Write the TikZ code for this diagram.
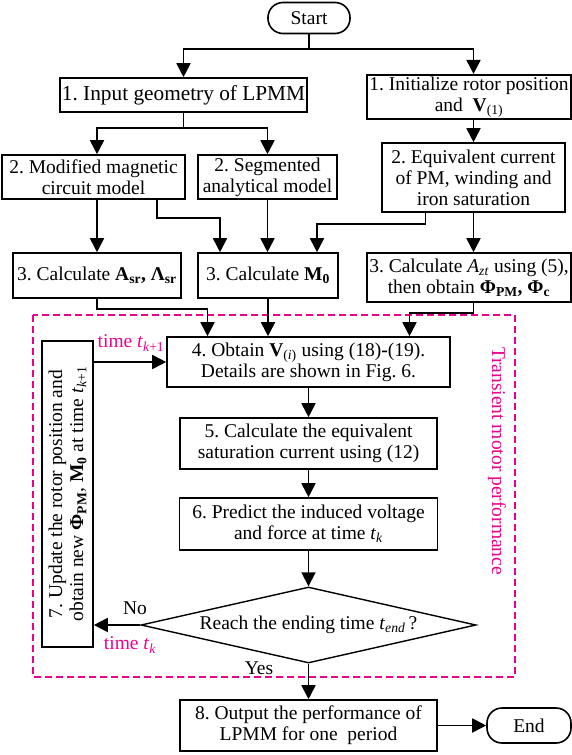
\documentclass[tikz,border=0pt]{standalone}
\usepackage{fontspec}
\setmainfont{Liberation Serif}
\usetikzlibrary{arrows.meta, shapes.geometric}
\frenchspacing

\begin{document}
\begin{tikzpicture}[x=1pt, y=-1pt,
  font=\fontsize{19.5}{21}\selectfont,
  box/.style={draw, line width=1.6pt, align=center, inner sep=2pt},
  term/.style={box, rounded corners=15pt},
  lnk/.style={line width=1.8pt},
  arr/.style={lnk, -{Triangle[length=14pt,width=14pt]}},
  note/.style={text=magenta, inner sep=1pt}]
\useasboundingbox (0,0) rectangle (572,755);

% transient loop frame
\draw [magenta, line width=1.5pt, dash pattern=on 7pt off 4pt] (33,315) rectangle (515,677);
\node [note, rotate=-90] (trans) at (497,461) {Transient motor performance};

% boxes
\node [term, minimum width=82pt, minimum height=31pt] (start) at (309,18) {Start};
\node [box, minimum width=233pt, minimum height=34pt, font=\fontsize{21.3}{23}\selectfont] (l1) at (183.5,95) {1. Input geometry of LPMM};
\node [box, minimum width=204pt, minimum height=40pt] (r1) at (469,97) {1. Initialize rotor position\\ and\enspace\textbf{V}\textsubscript{(1)}};
\node [box, minimum width=183pt, minimum height=44pt] (l2a) at (93.5,177) {2. Modified magnetic\\ circuit model};
\node [box, minimum width=139pt, minimum height=44pt] (l2b) at (267.5,177) {2. Segmented\\ analytical model};
\node [box, minimum width=183pt, minimum height=69pt] (r2) at (473.5,177.5) {2. Equivalent current\\ of PM, winding and\\ iron saturation};
\node [box, minimum width=168pt, minimum height=45pt] (l3a) at (97,275.5) {3. Calculate \textbf{A}\textsubscript{\textbf{sr}}\textbf{,} \textbf{Λ}\textsubscript{\textbf{sr}}};
\node [box, minimum width=140pt, minimum height=45pt] (l3b) at (268,275.5) {3. Calculate \textbf{M}\textsubscript{\textbf{0}}};
\node [box, minimum width=204pt, minimum height=49pt] (r3) at (469,277.5) {3. Calculate \textit{A}\textsubscript{\textit{zt}} using (5),\\ then obtain \textbf{Φ}\textsubscript{\textbf{PM}}\textbf{,} \textbf{Φ}\textsubscript{\textbf{c}}};
\node [box, minimum width=283pt, minimum height=50pt] (b4) at (308.5,362) {4. Obtain \textbf{V}\textsubscript{(\textit{i})} using (18)\textbf{-}(19).\\ Details are shown in Fig. 6.};
\node [box, minimum width=257pt, minimum height=51pt] (b5) at (308.5,443.5) {5. Calculate the equivalent\\ saturation current using (12)};
\node [box, minimum width=258pt, minimum height=52pt] (b6) at (308.5,524) {6. Predict the induced voltage\\ and force at time \textit{t}\textsubscript{\textit{k}}};
\node [draw, diamond, aspect=4.4, line width=1.4pt, inner sep=0pt, minimum width=335pt, minimum height=76pt] (dec) at (308.5,625) {Reach the ending time \textit{t}\textsubscript{\textit{end}}\,?};
\node [box, rotate=90, minimum width=306pt, minimum height=51pt] (b7) at (67.5,494) {7. Update the rotor position and\\ obtain new \textbf{Φ}\textsubscript{\textbf{PM}}, \textbf{M}\textsubscript{\textbf{0}} at time \textit{t}\textsubscript{\textit{k}+1}};
\node [box, minimum width=257pt, minimum height=51pt] (b8) at (308.5,725.5) {8. Output the performance of\\ LPMM for one \ period};
\node [term, minimum width=84pt, minimum height=35pt] (end) at (529,725.5) {End};

% labels
\node [note] (tk1) at (131,343) {time \textit{t}\textsubscript{\textit{k}+1}};
\node (no) at (135,608) {No};
\node [note] (tk) at (130,645) {time \textit{t}\textsubscript{\textit{k}}};
\node (yes) at (259,668) {Yes};

% connectors
\draw [lnk] (start.south) -- ++(0,15) coordinate (sp1);
\draw [arr] (sp1) -| (l1.north);
\draw [arr] (sp1) -| (r2.north |- r1.north);
\draw [arr] (r2.north |- r1.south) -- (r2.north);
\draw [lnk] (l1.south) -- ++(0,15) coordinate (sp2);
\draw [arr] (sp2) -| (l3a.north |- l2a.north);
\draw [arr] (sp2) -| (l2b.north);
\draw [arr] (l3a.north |- l2a.south) -- (l3a.north);
\draw [arr] ([xshift=-29pt]l2a.south east) -- ++(0,18) -| ([xshift=-48pt]l3b.north);
\draw [arr] (l2b.south) -- (l2b.south |- l3b.north);
\draw [arr] ([xshift=-48pt]r2.south) -- ++(0,11) -| ([xshift=49pt]l3b.north);
\draw [arr] (r2.south) -- (r2.south |- r3.north);
\draw [arr] (l3a.south) -- ++(0,10) -| ([xshift=-101pt]b4.north);
\draw [arr] (l3b.south) -- (l3b.south |- b4.north);
\draw [arr] (r2.south |- r3.south) -- ++(0,10) -| ([xshift=101pt]b4.north);
\draw [arr] (b4.south) -- (b5.north);
\draw [arr] (b5.south) -- (b6.north);
\draw [arr] (b6.south) -- (dec.north);
\draw [arr] (dec.south) -- (b8.north);
\draw [arr] (dec.west) -- (dec.west -| b7.south);
\draw [arr] (b4.west -| b7.south) -- (b4.west);
\draw [arr] (b8.east) -- (end.west);
\end{tikzpicture}
\end{document}
